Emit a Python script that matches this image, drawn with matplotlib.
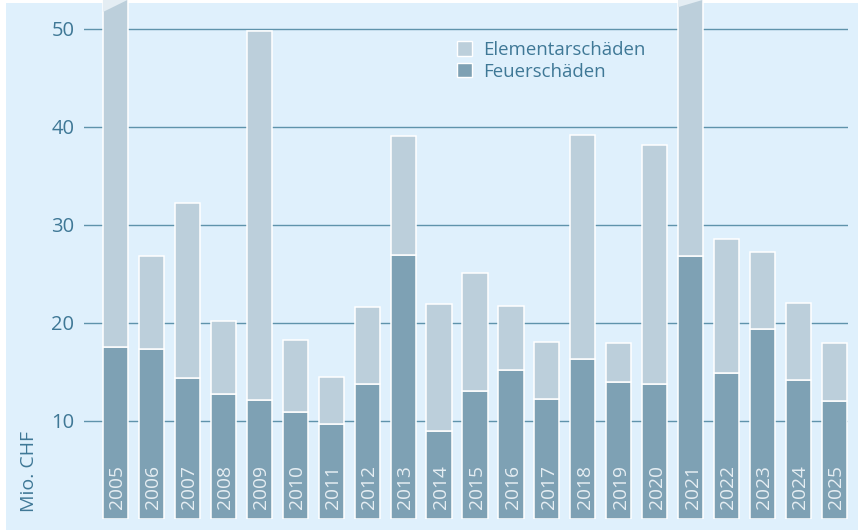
import matplotlib
matplotlib.use("Agg")
import matplotlib.pyplot as plt
from matplotlib.patches import Rectangle, Patch, Polygon

plt.rcParams['font.family'] = ['Open Sans', 'DejaVu Sans']

# ---- data ----
years = [str(y) for y in range(2005, 2026)]
feuer = [17.5, 17.3, 14.4, 12.7, 12.1, 10.9, 9.7, 13.7, 26.9, 9.0, 13.0,
         15.2, 12.2, 16.3, 14.0, 13.7, 26.8, 14.9, 19.4, 14.2, 12.0]
total = [95.0, 26.8, 32.2, 20.2, 49.8, 18.2, 14.5, 21.6, 39.1, 21.9, 25.1,
         21.7, 18.0, 39.2, 17.9, 38.1, 75.0, 28.5, 27.2, 22.0, 17.9]
elementar = [t - f for t, f in zip(total, feuer)]
yticks = [10, 20, 30, 40, 50]
broken = {"2005": 51.7, "2021": 52.2}   # where the cut-off mark starts
ytop = 52.93
ylabel = "Mio. CHF"
labels = ["Elementarschäden", "Feuerschäden"]

# ---- style ----
bg = "#dff0fc"
light = "#bccfdb"
dark = "#7ea1b4"
textc = "#3f7896"
gridc = "#5f93ab"
yearc = "#e6eef3"
cutc = "#e4edf3"

W, H = 858, 530
fig = plt.figure(figsize=(W / 100, H / 100), dpi=100)
fig.patches.append(Rectangle((6 / W, 0), 1, (H - 3) / H, transform=fig.transFigure,
                             facecolor=bg, edgecolor="none", zorder=-10))

ax = fig.add_axes([84 / W, (H - 518.7) / H, 764 / W, 518.7 / H])
ax.set_zorder(1)
ax.set_facecolor("none")
for s in ax.spines.values():
    s.set_visible(False)

x = list(range(len(years)))
ax.set_xlim(-0.876, 20.375)
ax.set_ylim(0, ytop)
ax.set_xticks([])
ax.set_yticks(yticks)
ax.tick_params(axis="y", length=0, pad=7, labelsize=14.5, labelcolor=textc)
ax.yaxis.grid(True, color=gridc, lw=1.0)
ax.set_axisbelow(True)

w = 0.7
ax.bar(x, feuer, width=w, color=dark, edgecolor="white", lw=1.1, zorder=2)
ax.bar(x, elementar, width=w, bottom=feuer, color=light, edgecolor="white", lw=1.1, zorder=2)

for i, yr in enumerate(years):
    ax.text(i + 0.05, 0.95, yr, rotation=90, ha="center", va="bottom",
            color=yearc, fontsize=13.8, zorder=3)
    if yr in broken:
        ax.add_patch(Polygon([(i - w / 2, broken[yr]), (i + w / 2 - 0.02, ytop),
                              (i - w / 2, ytop)], closed=True, facecolor=cutc,
                             edgecolor="none", zorder=3, clip_on=False))

fig.text(29 / W, 1 - 471 / H, ylabel, rotation=90, ha="center", va="center",
         fontsize=14, color=textc)

handles = [Patch(facecolor=light, edgecolor="white", lw=1.0),
           Patch(facecolor=dark, edgecolor="white", lw=1.0)]
ax.legend(handles, labels, loc="upper left", bbox_to_anchor=(457 / W, 1 - 41 / H),
          bbox_transform=fig.transFigure, frameon=False, fontsize=13.4,
          handlelength=0.8, handleheight=0.8, handletextpad=0.6,
          labelspacing=0.2, borderpad=0, borderaxespad=0, labelcolor=textc)

fig.savefig("out.png", dpi=100)
